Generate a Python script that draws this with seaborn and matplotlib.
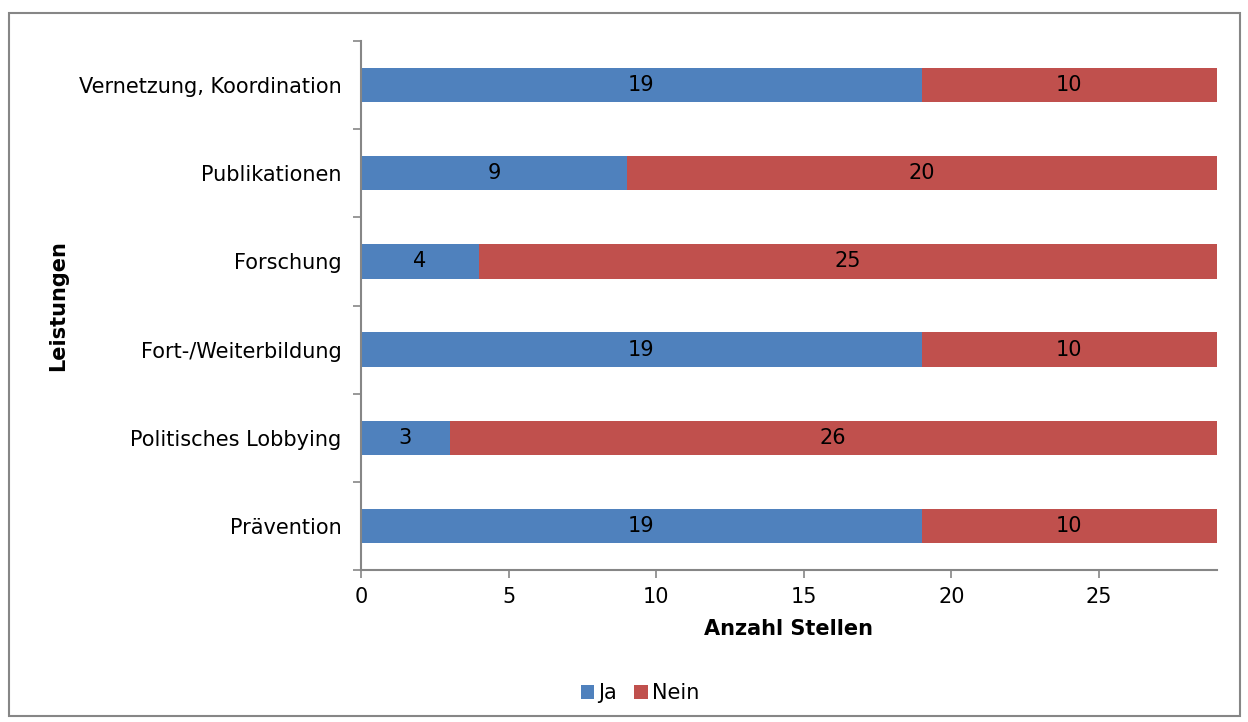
import matplotlib
matplotlib.use("Agg")
import matplotlib.pyplot as plt
import seaborn as sns
import pandas as pd
import numpy as np
from matplotlib.patches import Rectangle, Patch

categories = ["Vernetzung, Koordination", "Publikationen", "Forschung",
              "Fort-/Weiterbildung", "Politisches Lobbying", "Prävention"]
ja = [19, 9, 4, 19, 3, 19]
nein = [10, 20, 25, 10, 26, 10]
series_names = ["Ja", "Nein"]
colors = ["#4F81BD", "#C0504D"]
x_ticks = [0, 5, 10, 15, 20, 25]

sns.set_style("white", {"xtick.bottom": True, "ytick.left": True,
                        "text.color": "black", "axes.labelcolor": "black",
                        "xtick.color": "black", "ytick.color": "black"})
plt.rcParams['font.family'] = ['DejaVu Sans']

df = pd.DataFrame({"cat": categories, "Ja": ja, "Nein": nein})

fig = plt.figure(figsize=(12.48, 7.22), dpi=100)
ax = fig.add_axes([361/1248, 1-570/722, (1217-361)/1248, (570-41)/722])

sns.barplot(data=df, y="cat", x="Ja", color=colors[0], width=0.39, ax=ax,
            orient="h", saturation=1)
sns.barplot(data=df, y="cat", x="Nein", color=colors[1], width=0.39, ax=ax,
            orient="h", saturation=1)

c_ja = ax.containers[0]
c_nein = ax.containers[1]
for p, j in zip(c_nein.patches, ja):
    p.set_x(j)

for p in list(c_ja.patches) + list(c_nein.patches):
    p.set_edgecolor("none")
    p.set_linewidth(0)

fs = 15
ax.bar_label(c_ja, labels=[str(v) for v in ja], label_type="center", fontsize=fs, color="black")
ax.bar_label(c_nein, labels=[str(v) for v in nein], label_type="center", fontsize=fs, color="black")

ax.set_xlim(0, 29)
ax.set_ylim(len(categories) - 0.5, -0.5)
ax.set_xticks(x_ticks)
ax.set_xticklabels([str(t) for t in x_ticks], fontsize=fs)

ax.set_yticks(np.arange(-0.5, len(categories), 1.0))
ax.set_yticklabels([])
ax.set_yticks(np.arange(len(categories)), minor=True)
ax.set_yticklabels(categories, minor=True, fontsize=fs)
ax.tick_params(axis="y", which="minor", length=0, pad=14, left=False)
ax.tick_params(axis="y", which="major", length=6, width=1.2, color="#868686",
               direction="out", left=True)
ax.tick_params(axis="x", which="major", length=6, width=1.2, color="#868686",
               direction="out", pad=6, bottom=True)

for s in ["top", "right"]:
    ax.spines[s].set_visible(False)
for s in ["left", "bottom"]:
    ax.spines[s].set_color("#868686")
    ax.spines[s].set_linewidth(1.5)

ax.set_xlabel("Anzahl Stellen", fontsize=fs, fontweight="bold", labelpad=9)
ax.set_ylabel("Leistungen", fontsize=fs, fontweight="bold")
ax.yaxis.set_label_coords(-0.342, 0.5)

handles = [Patch(facecolor=colors[0], edgecolor="none"),
           Patch(facecolor=colors[1], edgecolor="none")]
fig.legend(handles, series_names, loc="center", bbox_to_anchor=(640/1248, 1-693/722),
           ncol=2, frameon=False, fontsize=fs, handlelength=0.65, handleheight=0.65,
           handletextpad=0.2, columnspacing=0.8)

fig.patches.append(Rectangle((9/1248, 1-716/722), (1240-9)/1248, (716-13)/722,
                             transform=fig.transFigure, fill=False,
                             edgecolor="#868686", linewidth=1.5))

fig.savefig("out.png", dpi=100)
